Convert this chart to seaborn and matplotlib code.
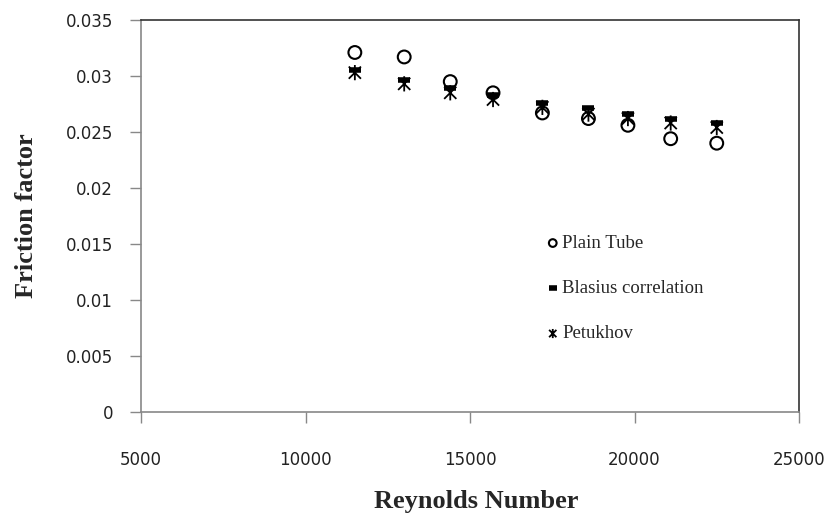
import matplotlib
matplotlib.use("Agg")
import matplotlib.pyplot as plt
from matplotlib.path import Path
import seaborn as sns
import pandas as pd

reynolds = [11500, 13000, 14400, 15700, 17200, 18600, 19800, 21100, 22500]
plain_tube = [0.0321, 0.0317, 0.0295, 0.0285, 0.0267, 0.0262, 0.0256, 0.0244, 0.0240]
blasius = [0.0305, 0.0296, 0.0289, 0.0283, 0.0276, 0.0271, 0.0266, 0.0262, 0.0258]
petukhov = [0.0303, 0.0293, 0.0285, 0.0279, 0.0272, 0.0266, 0.0262, 0.0258, 0.0254]

series_names = ["Plain Tube", "Blasius correlation", "Petukhov"]
x_ticks = [5000, 10000, 15000, 20000, 25000]
y_ticks = [0, 0.005, 0.01, 0.015, 0.02, 0.025, 0.03, 0.035]
y_ticklabels = ["0", "0.005", "0.01", "0.015", "0.02", "0.025", "0.03", "0.035"]

sns.set_style("white")
plt.rcParams["font.family"] = ["DejaVu Sans"]

fig = plt.figure(figsize=(8.32, 5.2), dpi=100)
ax = fig.add_axes([141/832, 108/520, 658/832, 392/520])

df = pd.DataFrame({"Re": reynolds * 3,
                   "f": plain_tube + blasius + petukhov,
                   "series": [series_names[0]] * 9 + [series_names[1]] * 9 + [series_names[2]] * 9})

# Excel-like star: vertical stroke plus an X
star = Path([(0, -1), (0, 1), (-0.8, -0.8), (0.8, 0.8), (-0.8, 0.8), (0.8, -0.8)],
            [Path.MOVETO, Path.LINETO, Path.MOVETO, Path.LINETO, Path.MOVETO, Path.LINETO])

styles = {
    series_names[0]: dict(marker="o", s=85, facecolor="none", edgecolor="black", linewidth=1.5),
    series_names[1]: dict(marker="_", s=85, color="black", linewidth=4.0),
    series_names[2]: dict(marker=star, s=120, facecolor="none", edgecolor="black", linewidth=1.3),
}
for name in [series_names[2], series_names[1], series_names[0]]:
    sub = df[df["series"] == name]
    sns.scatterplot(data=sub, x="Re", y="f", ax=ax, label=name, **styles[name])

ax.set_xlim(5000, 25000)
ax.set_ylim(0, 0.035)
ax.set_xticks(x_ticks)
ax.set_xticklabels([str(t) for t in x_ticks])
ax.set_yticks(y_ticks)
ax.set_yticklabels(y_ticklabels)

for side in ["left", "bottom"]:
    ax.spines[side].set_color("#888888")
    ax.spines[side].set_linewidth(1.2)
for side in ["top", "right"]:
    ax.spines[side].set_color("#333333")
    ax.spines[side].set_linewidth(1.2)
    ax.spines[side].set_visible(True)

ax.tick_params(axis="both", which="major", direction="out", length=8, width=1,
               color="#888888", labelsize=12, labelcolor="#222222")
ax.tick_params(axis="y", pad=12)
ax.tick_params(axis="x", pad=20)
ax.tick_params(left=True, bottom=True)

ax.set_xlabel("Reynolds Number", family=["Liberation Serif"], fontweight="bold", fontsize=19, labelpad=16)
ax.set_ylabel("Friction factor", family=["Liberation Serif"], fontweight="bold", fontsize=19, labelpad=20)
ax.xaxis.set_label_coords(0.51, -0.2)

handles, labels = ax.get_legend_handles_labels()
order = [labels.index(n) for n in series_names]
leg = ax.legend([handles[i] for i in order], [labels[i] for i in order],
                loc="upper left", bbox_to_anchor=(0.593, 0.495), frameon=False,
                prop={"family": "Liberation Serif", "size": 13.5},
                markerscale=0.6, handlelength=0.5, handletextpad=0.25, labelspacing=1.5)

fig.savefig("out.png", dpi=100, facecolor="white")
